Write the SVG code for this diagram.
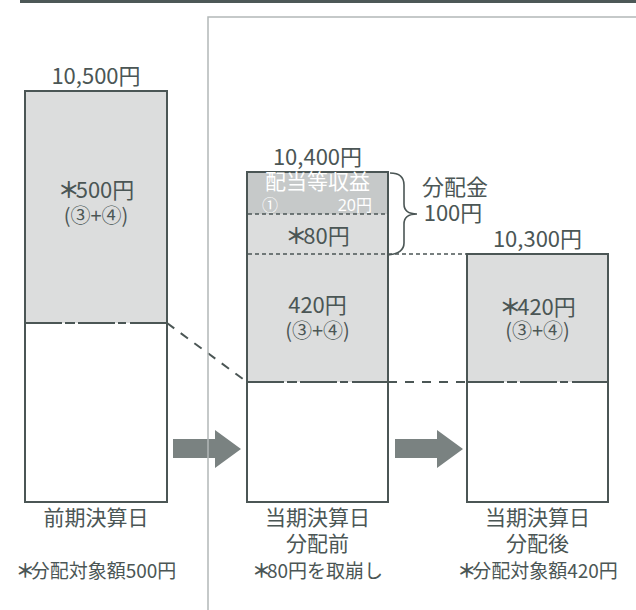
<svg xmlns="http://www.w3.org/2000/svg" width="636" height="610" viewBox="0 0 636 610">
<style>
text{font-family:"Noto Sans CJK JP","Noto Sans",sans-serif;fill:#4b5655;text-anchor:middle}
.t22{font-size:22px}
.t21{font-size:21px}
.t20{font-size:20px}
.t19{font-size:19px}
.t16{font-size:16px}
.lat{font-family:"Noto Sans","Noto Sans CJK JP",sans-serif}
.ast{font-weight:bold;letter-spacing:-4px}
.box{fill:#fff;stroke:#4b5655;stroke-width:2}
.fill{fill:#dcdddd}
.fill2{fill:#c6c9c9}
.edge{fill:none;stroke:#4b5655;stroke-width:1.6}
.div{fill:none;stroke:#4b5655;stroke-width:2;stroke-dasharray:37 3 10 3 37 3 8 4 100}
.fine{fill:none;stroke:#4b5655;stroke-width:1.6;stroke-dasharray:4 3}
.dash{fill:none;stroke:#4b5655;stroke-width:2;stroke-dasharray:9 8}
.arrow{fill:#7a8281}
.frame{fill:none;stroke:#b3b8b8;stroke-width:1.5}
.w{fill:#fff}
</style>
<rect x="20" y="0" width="616" height="3" fill="#4d5857"/>

<g id="connectors">
<line class="dash" x1="167" y1="323" x2="247" y2="382"/>
<line class="dash" x1="388" y1="382" x2="467" y2="382"/>
<line class="fine" x1="388" y1="254" x2="467" y2="254"/>
<polygon id="arrow1" class="arrow" points="173,439 215,439 215,430 241,449 215,468 215,458 173,458"/>
<polygon id="arrow2" class="arrow" points="395,439 437,439 437,430 463,449 437,468 437,458 395,458"/>
</g>

<path class="frame" d="M208,610 V17 H636"/>

<g id="node-prev">
<text class="t22" x="96" y="84">10,500円</text>
<rect class="box" x="25" y="91" width="142" height="411"/>
<rect class="fill" x="26" y="92" width="140" height="231"/>
<line class="div" x1="25" y1="323" x2="167" y2="323"/>
<text class="t22" x="96" y="198"><tspan class="ast">＊</tspan>500円</text>
<text class="t20" x="96" y="223">(③+④)</text>
<text class="t21" x="96" y="525">前期決算日</text>
<text class="t19" x="96" y="578"><tspan class="ast">＊</tspan>分配対象額500円</text>
</g>

<g id="node-before">
<text class="t22" x="317.5" y="165">10,400円</text>
<rect class="box" x="247" y="172" width="141" height="330"/>
<rect class="fill2" x="248" y="173" width="139" height="41"/>
<rect class="fill" x="248" y="214" width="139" height="168"/>
<line class="fine" x1="248" y1="214" x2="387" y2="214"/>
<line class="fine" x1="248" y1="254" x2="387" y2="254"/>
<line class="div" x1="247" y1="382" x2="388" y2="382"/>
<text class="t21 w" x="317.5" y="189">配当等収益</text>
<text class="t16 w lat" x="270" y="211">①</text>
<text class="t16 w lat" x="372" y="211" style="text-anchor:end">20円</text>
<text class="t22" x="317.5" y="244"><tspan class="ast">＊</tspan>80円</text>
<text class="t22" x="317.5" y="313">420円</text>
<text class="t20" x="317.5" y="338">(③+④)</text>
<text class="t21" x="317.5" y="525">当期決算日</text>
<text class="t21" x="317.5" y="551">分配前</text>
<text class="t19" x="317.5" y="578"><tspan class="ast">＊</tspan>80円を取崩し</text>
</g>

<g id="node-brace">
<path class="edge" d="M390,173 C400,173 404,177 404,185 L404,204 C404,211 409,214 417,214 C409,214 404,217 404,224 L404,243 C404,251 398,254 388,255"/>
<text class="t22" x="455" y="195">分配金</text>
<text class="t22" x="453" y="221">100円</text>
</g>

<g id="node-after">
<text class="t22" x="537.5" y="247">10,300円</text>
<rect class="box" x="467" y="254" width="141" height="248"/>
<rect class="fill" x="468" y="255" width="139" height="127"/>
<line class="div" x1="467" y1="382" x2="608" y2="382"/>
<text class="t22" x="537.5" y="315"><tspan class="ast">＊</tspan>420円</text>
<text class="t20" x="537.5" y="338">(③+④)</text>
<text class="t21" x="537.5" y="525">当期決算日</text>
<text class="t21" x="537.5" y="551">分配後</text>
<text class="t19" x="537.5" y="578"><tspan class="ast">＊</tspan>分配対象額420円</text>
</g>
</svg>
